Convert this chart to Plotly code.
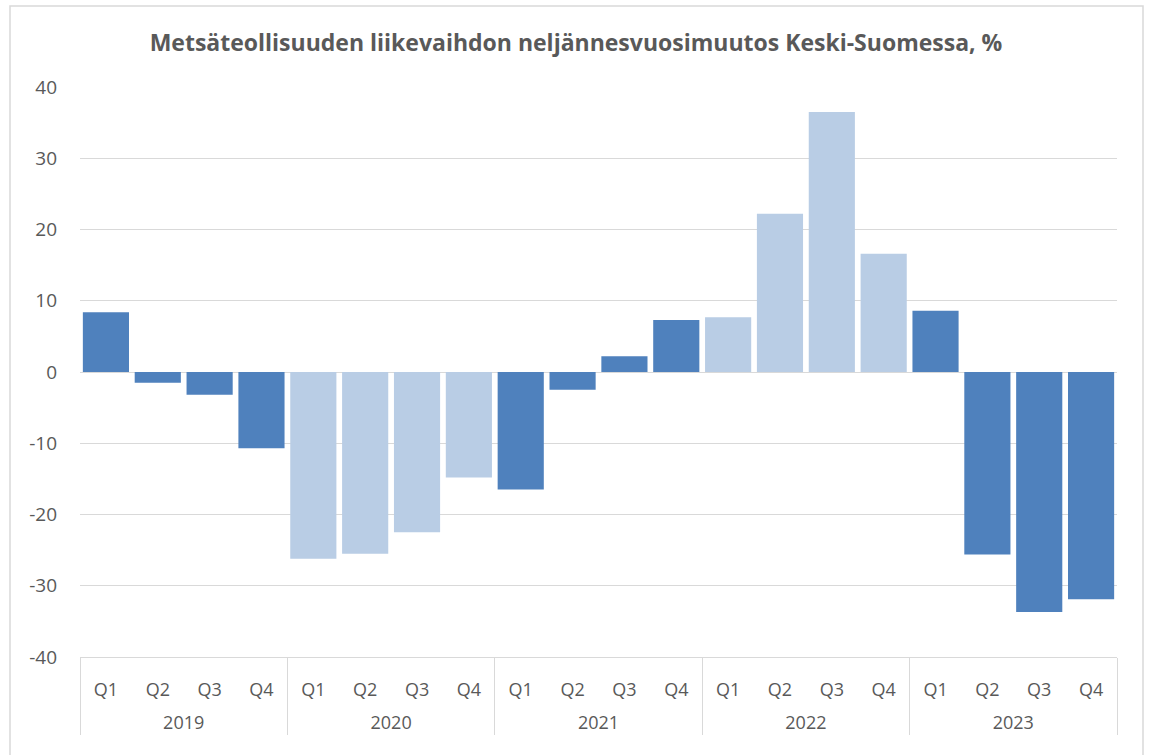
import plotly.graph_objects as go

years = ["2019"] * 4 + ["2020"] * 4 + ["2021"] * 4 + ["2022"] * 4 + ["2023"] * 4
quarters = ["Q1", "Q2", "Q3", "Q4"] * 5
values = [8.4, -1.5, -3.2, -10.7,
          -26.2, -25.5, -22.5, -14.8,
          -16.5, -2.5, 2.2, 7.3,
          7.7, 22.2, 36.5, 16.6,
          8.6, -25.6, -33.7, -31.9]
light_years = {"2020", "2022"}
y_ticks = [-40, -30, -20, -10, 0, 10, 20, 30, 40]
y_tick_text = ["-40", "-30", "-20", "-10", "0", "10", "20", "30", "40"]
title = "Metsäteollisuuden liikevaihdon neljännesvuosimuutos Keski-Suomessa, %"

DARK = "#4F81BD"
LIGHT = "#B9CDE5"
colors = [LIGHT if y in light_years else DARK for y in years]
# push the year row one line lower (as in the reference)
year_labels = ["<br>" + y for y in years]

W, H = 1152, 755
L, R, T, B = 80, 1117, 87, 657
pw, ph = R - L, B - T

def px_x(p):
    return (p - L) / pw

def px_y(p):
    return (B - p) / ph

fig = go.Figure(go.Bar(
    x=[year_labels, quarters],
    y=values,
    marker=dict(color=colors, line=dict(width=0)),
    hoverinfo="y",
))

font_fam = "Open Sans, Noto Sans, sans-serif"
fig.update_layout(
    width=W, height=H,
    margin=dict(l=L, r=W - R, t=T, b=H - B, pad=0),
    paper_bgcolor="white", plot_bgcolor="white",
    bargap=0.11,
    showlegend=False,
    title=dict(text="<b>" + title + "</b>", x=0.5, xanchor="center",
               y=1 - 43 / H, yanchor="middle",
               font=dict(family=font_fam, size=23, color="#595959")),
    font=dict(family=font_fam, size=18, color="#595959"),
)
fig.update_yaxes(
    range=[-40, 40], tickvals=y_ticks, ticktext=y_tick_text,
    showgrid=True, gridcolor="#D9D9D9",
    gridwidth=1, zeroline=True, zerolinecolor="#D9D9D9", zerolinewidth=1,
    showline=False, ticks="", ticklabelstandoff=22,
    tickfont=dict(family=font_fam, size=19, color="#595959"),
)
fig.update_xaxes(
    type="multicategory", showline=True, linecolor="#D9D9D9", linewidth=1,
    showdividers=True, dividercolor="#D9D9D9", dividerwidth=1,
    ticks="", tickfont=dict(family=font_fam, size=18, color="#595959"),
    ticklabelstandoff=16,
)
# outer chart border
fig.add_shape(type="rect", xref="paper", yref="paper",
              x0=px_x(10), x1=px_x(1143), y0=px_y(800), y1=px_y(6),
              line=dict(color="#D9D9D9", width=1.5), fillcolor="rgba(0,0,0,0)",
              layer="below")

fig.write_html("out.html", config={"displayModeBar": False},
               post_script="document.body.style.margin='0';")
